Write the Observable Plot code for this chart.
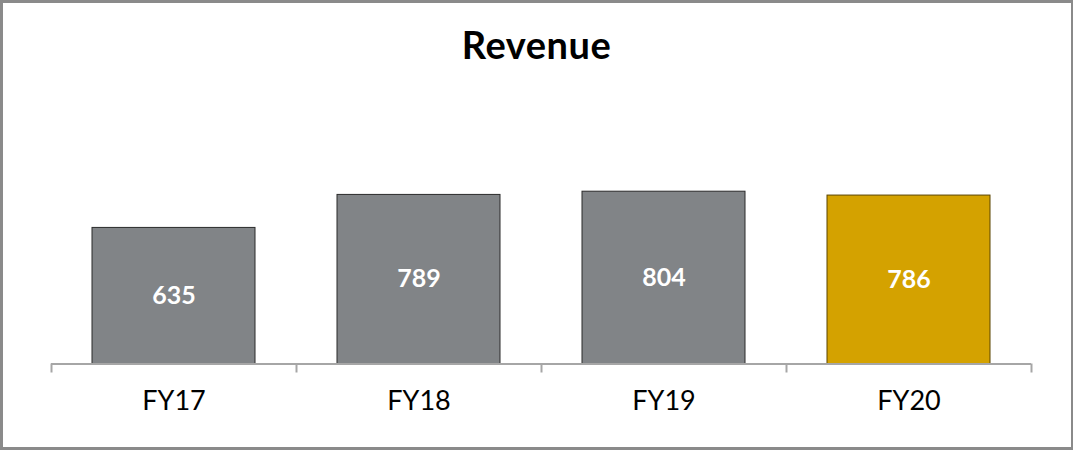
<!DOCTYPE html>
<html>
<head>
<meta charset="utf-8">
<script src="https://cdn.jsdelivr.net/npm/d3@7"></script>
<script src="https://cdn.jsdelivr.net/npm/@observablehq/plot@0.6"></script>
<style>
  html, body { margin: 0; padding: 0; background: #fff; }
  #wrap { position: relative; width: 1073px; height: 450px; overflow: hidden; font-family: Lato, "DejaVu Sans", sans-serif; }
  #frame { position: absolute; left: 0; top: 0; width: 1073px; height: 450px; box-sizing: border-box;
           border-style: solid; border-color: #8a8a8a; border-width: 3px 2px 3px 3px; pointer-events: none; }
  #title { height: 80px; box-sizing: border-box; padding-top: 22px; text-align: center;
           font: bold 38px Lato, sans-serif; line-height: 44px; color: #000; letter-spacing: 0.5px; }
  #chart svg { display: block; }
</style>
</head>
<body>
<div id="wrap">
  <div id="title">Revenue</div>
  <div id="chart"></div>
  <div id="frame"></div>
</div>
<script>
const categories = ["FY17", "FY18", "FY19", "FY20"];
const revenue = [635, 789, 804, 786];
const barColors = ["#818487", "#818487", "#818487", "#D4A200"];
const barStrokes = ["#2b2b2b", "#2b2b2b", "#2b2b2b", "#5a4500"];

const data = categories.map((c, i) => ({
  cat: c, i, value: revenue[i], fill: barColors[i], stroke: barStrokes[i]
}));
const boundaries = d3.range(categories.length + 1);
const centers = categories.map((c, i) => i + 0.5);

const chart = Plot.plot({
  width: 1073,
  height: 370,
  marginLeft: 51,
  marginRight: 42,
  marginTop: 69.2,
  marginBottom: 86.5,
  x: { type: "linear", domain: [0, categories.length] },
  y: { domain: [0, 1000] },
  style: { fontFamily: "Lato, sans-serif", background: "transparent" },
  marks: [
    Plot.rectY(data, {
      x1: "i", x2: d => d.i + 1, y: "value",
      insetLeft: 41, insetRight: 41,
      fill: "fill", stroke: "stroke", strokeWidth: 1
    }),
    Plot.text(data, {
      x: d => d.i + 0.5, y: d => d.value / 2, text: d => String(d.value),
      fill: "white", fontWeight: "bold", fontSize: 25, letterSpacing: "0.5px"
    }),
    Plot.ruleY([0], { stroke: "#a6a6a6", strokeWidth: 2 }),
    Plot.axisX({
      ticks: boundaries, tickSize: 9, tickFormat: () => "",
      stroke: "#a6a6a6", strokeWidth: 2, strokeOpacity: 1, label: null
    }),
    Plot.axisX({
      ticks: centers, tickSize: 0, tickPadding: 27,
      tickFormat: v => categories[Math.floor(v)],
      fontSize: 27, fill: "#000", label: null
    }),
    Plot.axisY({ ticks: [], label: null, tickSize: 0, tickFormat: () => "" })
  ]
});
document.getElementById("chart").appendChild(chart);
</script>
</body>
</html>
